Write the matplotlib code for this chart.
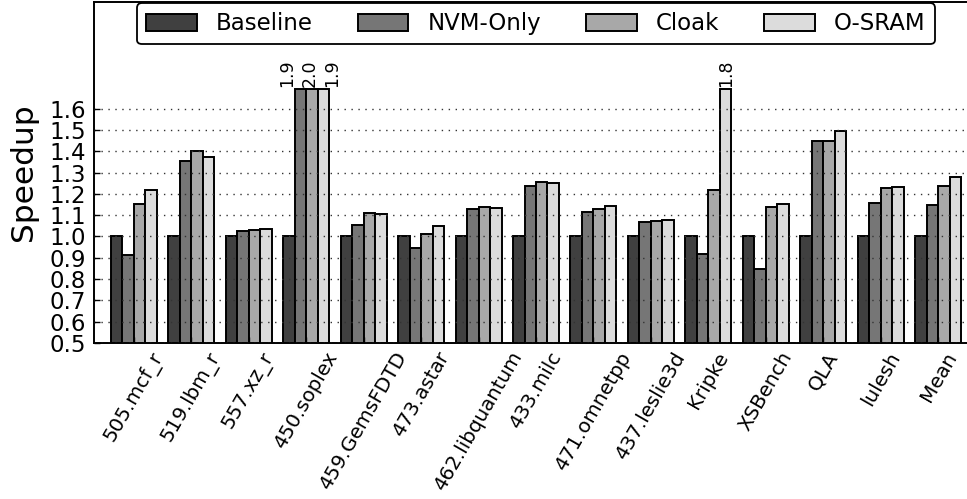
import matplotlib
matplotlib.use("Agg")
import matplotlib.pyplot as plt
import numpy as np

benchmarks = ["505.mcf_r", "519.lbm_r", "557.xz_r", "450.soplex", "459.GemsFDTD",
              "473.astar", "462.libquantum", "433.milc", "471.omnetpp", "437.leslie3d",
              "Kripke", "XSBench", "QLA", "lulesh", "Mean"]
series_names = ["Baseline", "NVM-Only", "Cloak", "O-SRAM"]
baseline = [1.0, 1.0, 1.0, 1.0, 1.0, 1.0, 1.0, 1.0, 1.0, 1.0, 1.0, 1.0, 1.0, 1.0, 1.0]
nvm_only = [0.911, 1.355, 1.025, 1.9, 1.052, 0.947, 1.128, 1.239, 1.116, 1.066, 0.919, 0.848, 1.450, 1.156, 1.148]
cloak = [1.150, 1.400, 1.031, 2.0, 1.111, 1.011, 1.139, 1.256, 1.127, 1.072, 1.219, 1.139, 1.450, 1.225, 1.237]
osram = [1.217, 1.373, 1.036, 1.9, 1.105, 1.047, 1.133, 1.251, 1.142, 1.077, 1.8, 1.152, 1.494, 1.231, 1.278]
yticks = [0.5, 0.6, 0.7, 0.8, 0.9, 1.0, 1.1, 1.2, 1.3, 1.4, 1.5, 1.6]
clip_value = 1.69

colors = ["#404040", "#767676", "#a8a8a8", "#dcdcdc"]
series = [baseline, nvm_only, cloak, osram]

plt.rcParams["font.family"] = ["DejaVu Sans"]
fig = plt.figure(figsize=(9.67, 4.99), dpi=100)
ax = fig.add_axes([94 / 967, 1 - 343 / 499, (978 - 94) / 967, (343 - 2) / 499])

x = np.arange(len(benchmarks))
bw = 0.2
handles = []
labels_to_draw = {}
for k, (name, vals, col) in enumerate(zip(series_names, series, colors)):
    vals = np.array(vals, dtype=float)
    heights = np.minimum(vals, clip_value)
    pos = x + (k - 1.5) * bw
    h = ax.bar(pos, heights, bw, color=col, edgecolor="black", linewidth=1.4,
               label=name, zorder=2)
    handles.append(h)
    for i, v in enumerate(vals):
        if v > clip_value:
            labels_to_draw.setdefault(i, []).append((pos[i], v))

for i, items in labels_to_draw.items():
    n = len(items)
    if n == 1:
        xs = [items[0][0]]
    else:
        c = np.mean([p for p, _ in items]) - 0.04
        xs = [c + (j - (n - 1) / 2) * 0.39 for j in range(n)]
    for xx, (p, v) in zip(xs, items):
        ax.text(xx, clip_value + 0.012, f"{v:.1f}", rotation=90, ha="center",
                va="bottom", fontsize=12.5, zorder=5)

ax.set_ylim(0.5, 2.1)
ax.set_xlim(-0.69, len(benchmarks) - 1 + 0.69)
ax.set_yticks(yticks)
ax.set_yticklabels([f"{t:.1f}" for t in yticks], fontsize=16.5)
ax.set_xticks(x)
ax.set_xticklabels(benchmarks, rotation=60, fontsize=14.3)
ax.tick_params(axis="both", direction="in", length=4, width=1)
ax.tick_params(axis="y", pad=6)
ax.tick_params(axis="x", pad=4)
ax.set_ylabel("Speedup", fontsize=22.5, labelpad=8)

ax.yaxis.grid(True, linestyle=(0, (1, 4)), color="#333333", linewidth=1.0, zorder=3)
ax.set_axisbelow(False)
for s in ax.spines.values():
    s.set_linewidth(1.4)

leg = ax.legend(handles=handles, labels=series_names, ncol=4, loc="upper center",
                bbox_to_anchor=(0.5, 1.0), borderaxespad=0.05, fontsize=16.5,
                fancybox=True, framealpha=1, edgecolor="black",
                handlelength=2.2, handleheight=0.8, columnspacing=1.95,
                handletextpad=0.85, borderpad=0.4)
leg.get_frame().set_linewidth(1.3)
leg.set_zorder(10)

fig.savefig("out.png", dpi=100)
